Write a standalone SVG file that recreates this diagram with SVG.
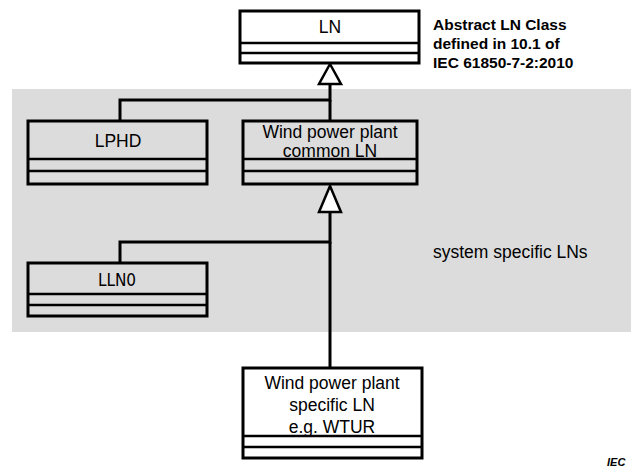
<svg xmlns="http://www.w3.org/2000/svg" width="631" height="469" viewBox="0 0 631 469">
<style>
.box{fill:none;stroke:#000;stroke-width:3}
.sep{stroke:#000;stroke-width:2.5}
.t{font-family:"Liberation Sans",Arial,sans-serif;font-size:17.5px;fill:#000;text-anchor:middle}
.ts{font-family:"Liberation Sans",Arial,sans-serif;font-size:17.5px;fill:#000;text-anchor:start}
.c{fill:none;stroke:#000;stroke-width:3}
.tri{fill:#fff;stroke:#000;stroke-width:2.5}
</style>
<rect x="0" y="0" width="631" height="469" fill="#fff"/>
<rect x="12" y="89" width="619" height="243" fill="#dcdcdc"/>
<g id="connectors">
<polyline class="c" points="330,84 330,100 120,100 120,121"/>
<line class="c" x1="330" y1="100" x2="330" y2="121"/>
<polyline class="c" points="330,212 330,242 120,242 120,263"/>
<line class="c" x1="330" y1="242" x2="330" y2="368"/>
<polygon class="tri" points="330,64 319,84 341,84"/>
<polygon class="tri" points="330,186 319,212 341,212"/>
</g>
<g id="LN">
<rect x="240" y="11" width="179" height="52" fill="#fff"/>
<rect class="box" x="240" y="11" width="179" height="52"/>
<line class="sep" x1="240" y1="43" x2="419" y2="43"/>
<line class="sep" x1="240" y1="53" x2="419" y2="53"/>
<text class="t" x="330" y="33">LN</text>
</g>
<g id="note">
<text font-family="Liberation Sans,Arial,sans-serif" font-size="15.5" font-weight="bold" x="433">
<tspan x="433" y="30">Abstract LN Class</tspan>
<tspan x="433" y="49">defined in 10.1 of</tspan>
<tspan x="433" y="68">IEC 61850-7-2:2010</tspan>
</text>
</g>
<g id="LPHD">
<rect class="box" x="28" y="121" width="179" height="63"/>
<line class="sep" x1="28" y1="159" x2="207" y2="159"/>
<line class="sep" x1="28" y1="171" x2="207" y2="171"/>
<text class="t" x="118" y="147">LPHD</text>
</g>
<g id="common">
<rect class="box" x="243" y="121" width="174" height="63"/>
<line class="sep" x1="243" y1="159" x2="417" y2="159"/>
<line class="sep" x1="243" y1="171" x2="417" y2="171"/>
<text class="t" x="330" y="138">Wind power plant</text>
<text class="t" x="330" y="157">common LN</text>
</g>
<g id="LLN0">
<rect class="box" x="28" y="263" width="179" height="53"/>
<line class="sep" x1="28" y1="294" x2="207" y2="294"/>
<line class="sep" x1="28" y1="305" x2="207" y2="305"/>
<text x="117" y="286" font-family="DejaVu Sans Condensed,DejaVu Sans,sans-serif" font-size="17" text-anchor="middle">LLN0</text>
</g>
<text class="ts" x="433" y="258">system specific LNs</text>
<g id="WTUR">
<rect x="243" y="368" width="179" height="90" fill="#fff"/>
<rect class="box" x="243" y="368" width="179" height="90"/>
<line class="sep" x1="243" y1="436" x2="422" y2="436"/>
<line class="sep" x1="243" y1="447" x2="422" y2="447"/>
<text class="t" x="332" y="389">Wind power plant</text>
<text class="t" x="332" y="411">specific LN</text>
<text class="t" x="332" y="433">e.g. WTUR</text>
</g>
<text x="607" y="466" font-family="Liberation Sans,Arial,sans-serif" font-size="11" font-style="italic" font-weight="bold">IEC</text>
</svg>
